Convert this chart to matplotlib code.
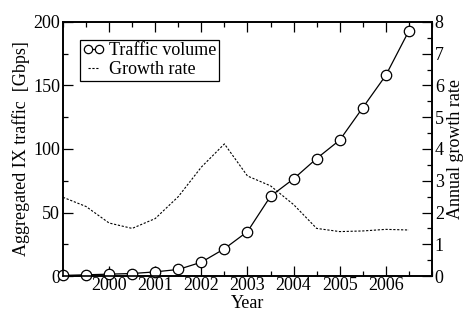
import numpy as np
import matplotlib
matplotlib.use("Agg")
import matplotlib.pyplot as plt
from matplotlib.ticker import MultipleLocator, FixedLocator

plt.rcParams['font.family'] = ['Liberation Serif', 'DejaVu Serif']
plt.rcParams['mathtext.fontset'] = 'stix'

# half-year sample points
years = [1999.0, 1999.5, 2000.0, 2000.5, 2001.0, 2001.5, 2002.0, 2002.5,
         2003.0, 2003.5, 2004.0, 2004.5, 2005.0, 2005.5, 2006.0, 2006.5]
traffic = [0.5, 1.0, 1.5, 2.0, 3.3, 5.2, 10.9, 21.5,
           35.0, 62.8, 76.5, 92.5, 107.0, 132.5, 158.0, 193.0]
growth = [2.48, 2.19, 1.67, 1.5, 1.81, 2.5, 3.43, 4.16,
          3.15, 2.84, 2.25, 1.5, 1.4, 1.42, 1.47, 1.45]
year_ticks = [2000, 2001, 2002, 2003, 2004, 2005, 2006]

fig = plt.figure(figsize=(4.63, 3.13), dpi=100)
ax = fig.add_axes([0.136, 0.118, 0.797, 0.812])
ax2 = ax.twinx()

l1, = ax.plot(years, traffic, '-', color='black', lw=0.9, marker='o',
              markersize=7.5, markerfacecolor='white', markeredgecolor='black',
              markeredgewidth=0.9, clip_on=False, zorder=5)
l2, = ax2.plot(years, growth, color='black', lw=0.8, linestyle=(0, (2, 1.5)))

ax.set_xlim(1999, 2007)
ax.set_ylim(0, 200)
ax2.set_ylim(0, 8)
ax.xaxis.set_major_locator(FixedLocator(year_ticks))
ax.xaxis.set_minor_locator(MultipleLocator(0.5))
ax.yaxis.set_major_locator(MultipleLocator(50))
ax.yaxis.set_minor_locator(MultipleLocator(25))
ax2.yaxis.set_major_locator(MultipleLocator(1))
ax2.yaxis.set_minor_locator(MultipleLocator(0.5))
ax.set_xticklabels([str(y) for y in year_ticks])

for a in (ax, ax2):
    a.tick_params(which='major', direction='in', length=7, width=0.9, labelsize=13, pad=2)
    a.tick_params(which='minor', direction='in', length=3.5, width=0.9)
    for s in a.spines.values():
        s.set_linewidth(1.2)
ax.tick_params(which='both', top=True)
ax.tick_params(axis='x', pad=1)

ax.set_xlabel("Year", fontsize=13, labelpad=0.5)
ax.set_ylabel("Aggregated IX traffic  [Gbps]", fontsize=13, labelpad=2)
ax2.set_ylabel("Annual growth rate", fontsize=13, labelpad=2)

leg = ax.legend([l1, l2], ["Traffic volume", "Growth rate"], loc='upper left',
                bbox_to_anchor=(0.045, 0.93), fontsize=13, numpoints=2,
                markerscale=0.8, handlelength=1.2, handletextpad=0.3,
                borderpad=0.15, labelspacing=0.1, fancybox=False, framealpha=1,
                edgecolor='black', borderaxespad=0)
leg.get_frame().set_linewidth(0.9)

fig.savefig("out.png", dpi=100)
